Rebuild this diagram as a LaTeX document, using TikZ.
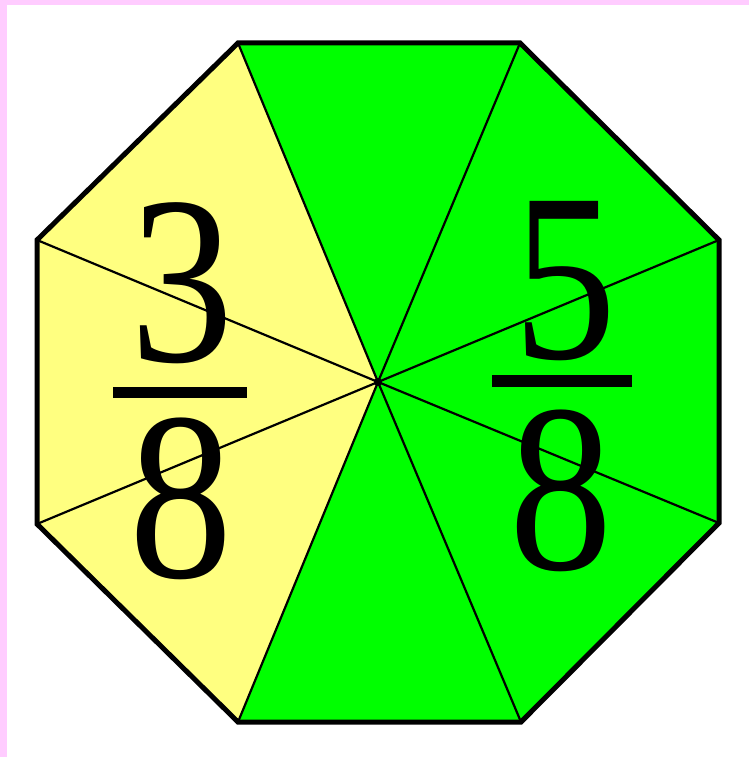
\documentclass[tikz,border=0pt]{standalone}
\usepackage{fontspec}
\setmainfont{Liberation Serif}
\definecolor{lemon}{RGB}{255,255,128}
\definecolor{lime}{RGB}{0,255,0}
\definecolor{pinkedge}{RGB}{255,204,255}
\begin{document}
\begin{tikzpicture}[x=1pt,y=-1pt,
  digit/.style={font=\fontsize{240}{240}\selectfont, inner sep=0pt, anchor=base, xscale=0.86, text height=163pt, text depth=0pt},
  spoke/.style={draw=black, line width=2.2pt},
  rim/.style={draw=black, line width=5pt, line join=miter},
  fracbar/.style={fill=black}]
\useasboundingbox (0,0) rectangle (749,757);
\fill[white] (0,0) rectangle (749,757);
\fill[pinkedge] (0,0) rectangle (749,5);
\fill[pinkedge] (0,0) rectangle (7,757);
\coordinate (O) at (378,382);
\coordinate (A) at (238,43);
\coordinate (B) at (520,43);
\coordinate (C) at (719,240);
\coordinate (D) at (719,523);
\coordinate (E) at (521,722);
\coordinate (F) at (238,722);
\coordinate (G) at (37,524);
\coordinate (H) at (37,240);
\fill[lemon] (O) -- (A) -- (H) -- (G) -- (F) -- cycle;
\fill[lime] (O) -- (F) -- (E) -- (D) -- (C) -- (B) -- (A) -- cycle;
\foreach \v in {A,B,C,D,E,F,G,H} \draw[spoke] (O) -- (\v);
\fill (O) circle (4pt);
\draw[rim] (A) -- (B) -- (C) -- (D) -- (E) -- (F) -- (G) -- (H) -- cycle;
\node[digit] (n3) at (182,361) {3};
\node[digit] (d8l) at (181,577) {8};
\fill[fracbar] (113,387) rectangle (247,398);
\node[digit] (n5) at (565,358) {5};
\node[digit] (d8r) at (561,569) {8};
\fill[fracbar] (492,375) rectangle (632,387);
\end{tikzpicture}
\end{document}
